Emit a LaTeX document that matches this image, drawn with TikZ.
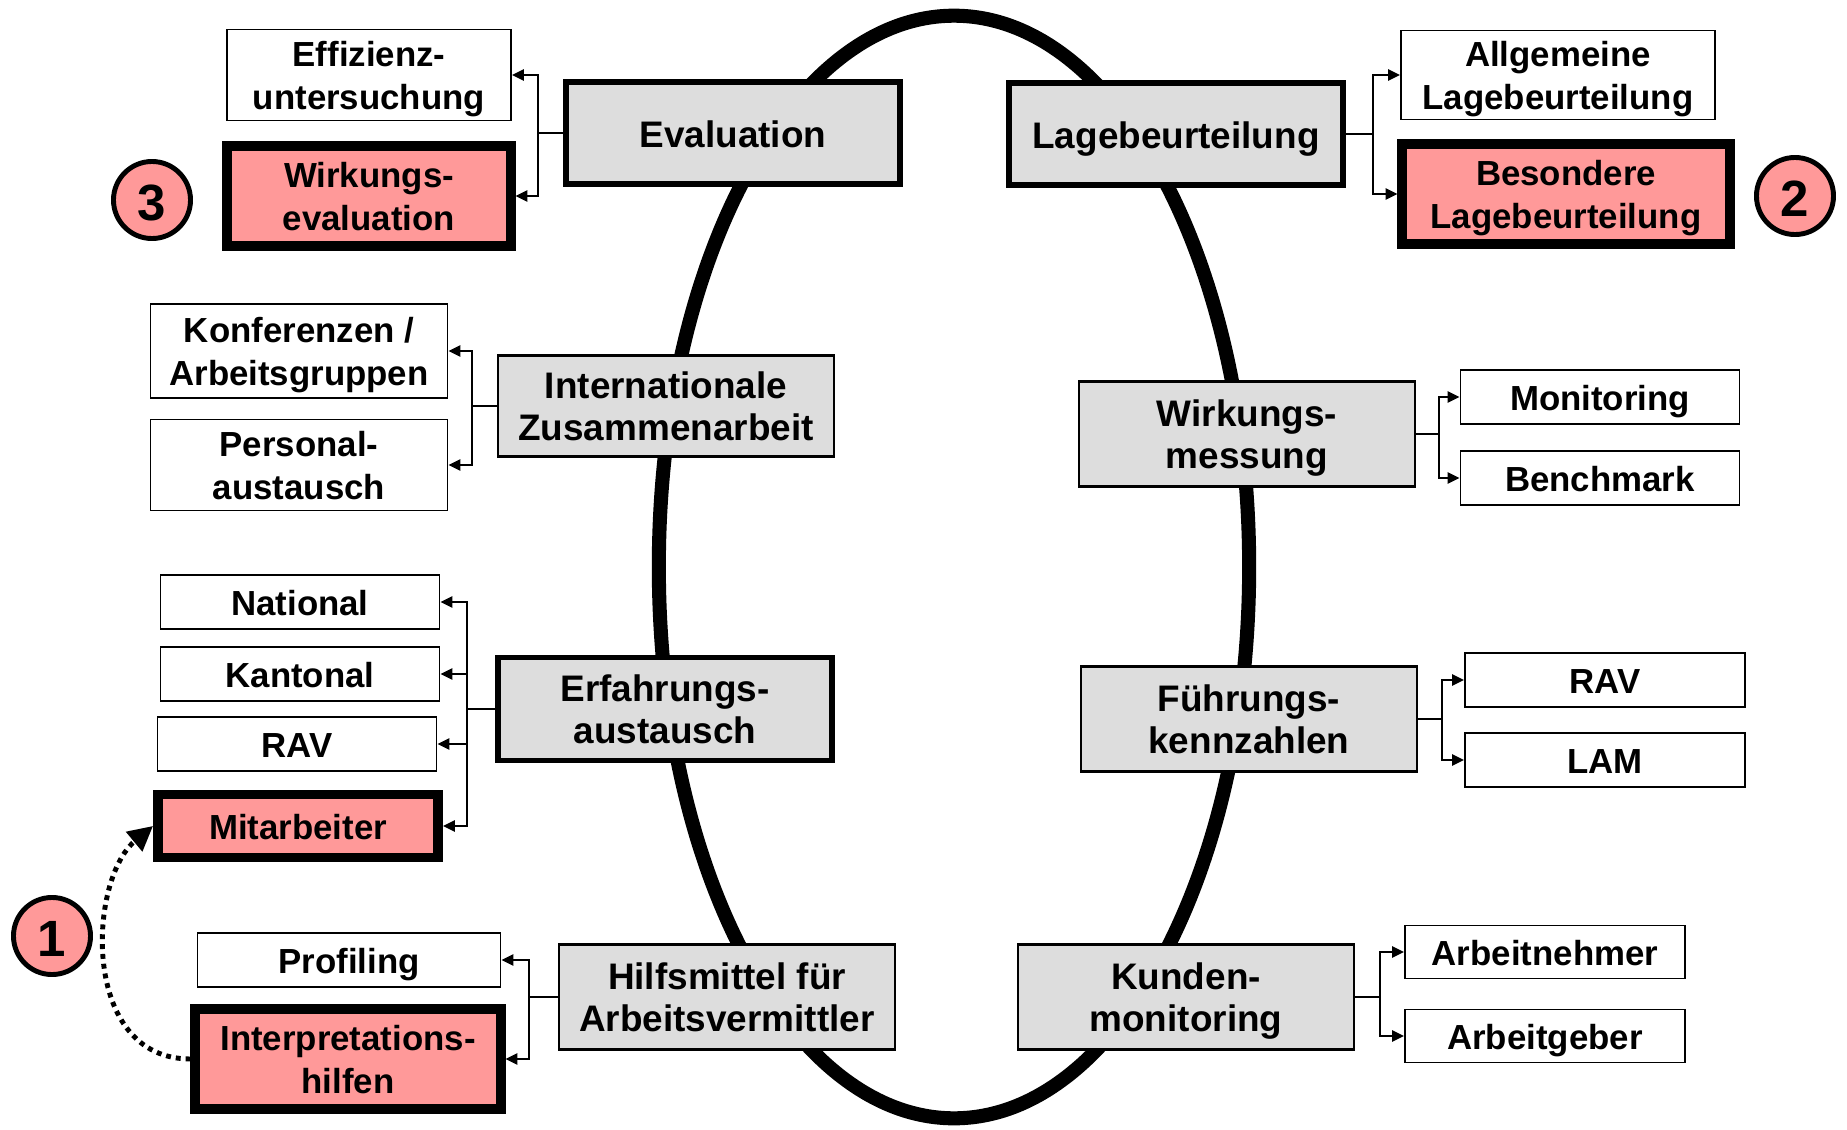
\documentclass[tikz,border=0pt]{standalone}
\usepackage{fontspec}
\setmainfont{Liberation Sans}
\usetikzlibrary{arrows.meta, positioning}
\definecolor{hubgray}{RGB}{221,221,221}
\definecolor{focuspink}{RGB}{255,153,153}

\begin{document}
\begin{tikzpicture}[
		x=0.01cm, y=-0.01cm,
		every node/.style={
			font=\fontsize{10.5}{12}\selectfont\bfseries,
			execute at begin node={\rule{0pt}{1.0em}},
			execute at end node={\rule[-0.212em]{0pt}{0pt}}
		},
		stack/.style={text depth=-0.05em},
		leaf/.style={
			rectangle,
			draw,
			fill=white,
			line width=0.5pt,
			align=center,
			inner sep=0pt,
			minimum height=0.54cm,
			font=\fontsize{9.9}{12.2}\selectfont\bfseries
		},
		hub/.style={
			rectangle,
			draw,
			fill=hubgray,
			line width=0.6pt,
			align=center,
			inner sep=0pt,
			minimum width=3.36cm,
			minimum height=1.05cm
		},
		hubbold/.style={
			hub,
			line width=1.5pt,
			minimum width=3.34cm,
			minimum height=1.02cm
		},
		focus/.style={
			rectangle,
			draw,
			fill=focuspink,
			line width=2.8pt,
			align=center,
			inner sep=0pt,
			font=\fontsize{9.9}{12.2}\selectfont\bfseries
		},
		marker/.style={
			circle,
			draw,
			fill=focuspink,
			line width=1.4pt,
			minimum size=0.77cm,
			inner sep=0pt,
			font=\fontsize{14.5}{16}\selectfont\bfseries
		},
		link/.style={
			-{Triangle[length=3.4pt,width=3.2pt]},
			line width=0.5pt
		},
		hint/.style={
			-{Triangle[length=7pt,width=7pt]},
			line width=1.4pt,
			dash pattern=on 1.4pt off 1.4pt
		}
		]
		
		\useasboundingbox (0,0) rectangle (1847,1130);
		
		% Cycle
		\draw[line width=4pt] (954,567) ellipse [x radius=2.95cm, y radius=5.51cm];
		
		% Nodes
		\node[hubbold] (eval) at (733,133) {Evaluation};
		\node[leaf, stack, minimum width=2.84cm, minimum height=0.91cm] (effiz) at (369,75) {Effizienz-\\untersuchung};
		\node[focus, stack, minimum width=2.83cm, minimum height=1.0cm] (wirkev) at (369,196) {Wirkungs-\\evaluation};
		\node[marker] (three) at (152,200) {3};
		
		\node[hubbold] (lage) at (1176,134) {Lagebeurteilung};
		\node[leaf, stack, minimum width=3.14cm, minimum height=0.89cm] (allg) at (1558,75) {Allgemeine\\Lagebeurteilung};
		\node[focus, stack, minimum width=3.27cm, minimum height=1.0cm] (bes) at (1566,194) {Besondere\\Lagebeurteilung};
		\node[marker] (two) at (1795,196) {2};
		
		\node[hub, stack, minimum height=1.01cm] (intl) at (666,406) {Internationale\\Zusammenarbeit};
		\node[leaf, stack, minimum width=2.97cm, minimum height=0.94cm] (konf) at (299,351) {Konferenzen /\\Arbeitsgruppen};
		\node[leaf, stack, minimum width=2.97cm, minimum height=0.91cm] (pers) at (299,465) {Personal-\\austausch};
		
		\node[hub, stack] (wmess) at (1247,434) {Wirkungs-\\messung};
		\node[leaf, minimum width=2.79cm] (moni) at (1600,397) {Monitoring};
		\node[leaf, minimum width=2.79cm] (bench) at (1600,478) {Benchmark};
		
		\node[hubbold, stack, minimum height=1.03cm] (erf) at (665,709) {Erfahrungs-\\austausch};
		\node[leaf, minimum width=2.79cm] (nat) at (300,602) {National};
		\node[leaf, minimum width=2.79cm] (kant) at (300,674) {Kantonal};
		\node[leaf, minimum width=2.79cm] (ravl) at (297,744) {RAV};
		\node[focus, minimum width=2.80cm, minimum height=0.63cm] (mitar) at (298,826) {Mitarbeiter};
		
		\node[hub, stack] (fuehr) at (1249,719) {Führungs-\\kennzahlen};
		\node[leaf, minimum width=2.80cm] (ravr) at (1605,680) {RAV};
		\node[leaf, minimum width=2.80cm] (lam) at (1605,760) {LAM};
		
		\node[hub, stack] (hilf) at (727,997) {Hilfsmittel für\\Arbeitsvermittler};
		\node[leaf, minimum width=3.03cm] (prof) at (349,960) {Profiling};
		\node[focus, stack, minimum width=3.05cm, minimum height=1.0cm] (interp) at (348,1059) {Interpretations-\\hilfen};
		\node[marker] (one) at (52,936) {1};
		
		\node[hub, stack] (kunden) at (1186,997) {Kunden-\\monitoring};
		\node[leaf, minimum width=2.80cm, minimum height=0.53cm] (anehm) at (1545,952) {Arbeitnehmer};
		\node[leaf, minimum width=2.80cm, minimum height=0.53cm] (ageb) at (1545,1036) {Arbeitgeber};
		
		% Arrows (left side)
		\draw[link] (eval.west) -- ++(-25,0) |- (effiz.east);
		\draw[link] (eval.west) -- ++(-25,0) |- (wirkev.east);
		\draw[link] (intl.west) -- ++(-25,0) |- (konf.east);
		\draw[link] (intl.west) -- ++(-25,0) |- (pers.east);
		\draw[link] (erf.west) -- ++(-28,0) |- (nat.east);
		\draw[link] (erf.west) -- ++(-28,0) |- (kant.east);
		\draw[link] (erf.west) -- ++(-28,0) |- (ravl.east);
		\draw[link] (erf.west) -- ++(-28,0) |- (mitar.east);
		\draw[link] (hilf.west) -- ++(-29,0) |- (prof.east);
		\draw[link] (hilf.west) -- ++(-29,0) |- (interp.east);
		
		% Arrows (right side)
		\draw[link] (lage.east) -- ++(27,0) |- (allg.west);
		\draw[link] (lage.east) -- ++(27,0) |- (bes.west);
		\draw[link] (wmess.east) -- ++(23,0) |- (moni.west);
		\draw[link] (wmess.east) -- ++(23,0) |- (bench.west);
		\draw[link] (fuehr.east) -- ++(24,0) |- (ravr.west);
		\draw[link] (fuehr.east) -- ++(24,0) |- (lam.west);
		\draw[link] (kunden.east) -- ++(25,0) |- (anehm.west);
		\draw[link] (kunden.east) -- ++(25,0) |- (ageb.west);
		
		% Dotted hint
		\draw[hint] (interp.west) .. controls (80,1059) and (88,880) .. (mitar.west);
	\end{tikzpicture}
\end{document}
